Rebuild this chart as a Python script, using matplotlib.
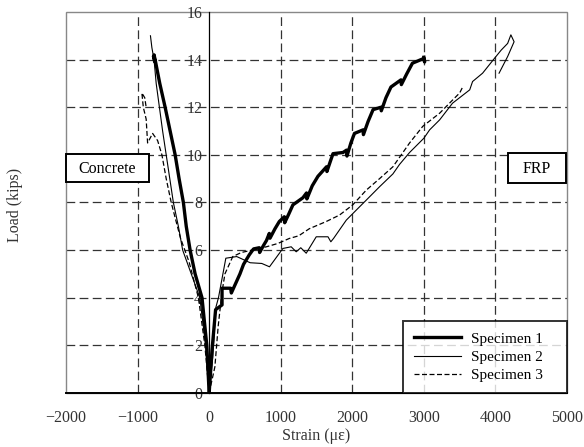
import matplotlib
matplotlib.use("Agg")
import matplotlib.pyplot as plt
from matplotlib.patches import Rectangle

plt.rcParams['font.family'] = ['Liberation Serif', 'DejaVu Serif']

# ---- data (strain in microstrain, load in kips) ----
s1_conc_x = [0, -33, -100, -196, -266, -320, -360, -420, -475, -545, -615, -690, -755, -770, -760, -775]
s1_conc_y = [0, 2, 4, 5, 6, 7, 8, 9, 10, 11, 12, 13, 14, 14.2, 13.9, 14.1]

s2_conc_x = [0, -50, -130, -250, -370, -430, -500, -550, -600, -650, -695, -740, -770, -800, -820]
s2_conc_y = [0, 2, 4, 5, 6, 7, 8, 9, 10, 11, 12, 13, 14, 14.5, 15]

s3_conc_x = [0, -60, -150, -280, -400, -470, -530, -600, -660, -720, -790, -860, -870, -880, -920, -940, -900, -880]
s3_conc_y = [0, 2, 4, 5.5, 6.5, 7.3, 8, 9, 10, 10.6, 10.9, 10.5, 11.0, 11.5, 12.0, 12.6, 12.4, 12.0]

s1_frp_x = [0, 40, 90, 180, 180, 300, 310, 430, 480, 560, 620, 700, 705, 760, 800, 840, 850,
            920, 980, 1050, 1055, 1110, 1170, 1310, 1360, 1365, 1440, 1520, 1640, 1645, 1690,
            1730, 1870, 1920, 1925, 1980, 2030, 2150, 2155, 2220, 2290, 2400, 2405, 2470, 2540,
            2680, 2685, 2760, 2840, 3000, 3010, 3000]
s1_frp_y = [0, 1.8, 3.5, 3.7, 4.4, 4.4, 4.2, 5.0, 5.4, 5.8, 6.05, 6.1, 5.9, 6.2, 6.4, 6.7, 6.5,
            6.9, 7.2, 7.4, 7.15, 7.5, 7.9, 8.2, 8.4, 8.15, 8.7, 9.1, 9.5, 9.3, 9.7,
            10.05, 10.1, 10.2, 9.95, 10.5, 10.9, 11.05, 10.85, 11.4, 11.9, 12.0, 11.85, 12.4, 12.85,
            13.15, 12.95, 13.4, 13.85, 14.05, 13.9, 14.1]

s2_frp_x = [0, 50, 94, 130, 233, 385, 573, 735, 843, 1030, 1146, 1216, 1280, 1356, 1496, 1660,
            1700, 1740, 1916, 2055, 2195, 2380, 2567, 2660, 2800, 3000, 3080, 3220, 3400, 3640,
            3680, 3820, 3985, 4080, 4170, 4215, 4260, 4170, 4050]
s2_frp_y = [0, 1.5, 3.6, 4.0, 5.66, 5.73, 5.47, 5.44, 5.3, 6.07, 6.14, 5.93, 6.1, 5.87, 6.56, 6.56,
            6.35, 6.5, 7.26, 7.68, 8.1, 8.66, 9.2, 9.6, 10.1, 10.7, 11.05, 11.47, 12.17, 12.73,
            13.08, 13.43, 14.05, 14.4, 14.68, 15.04, 14.75, 14.13, 13.43]

s3_frp_x = [0, 80, 126, 177, 220, 330, 450, 600, 800, 960, 1120, 1250, 1400, 1635, 1820, 2006,
            2195, 2380, 2567, 2800, 2985, 3220, 3400, 3500, 3550]
s3_frp_y = [0, 1.1, 2.8, 4.19, 5.0, 5.73, 5.9, 6.0, 6.14, 6.28, 6.49, 6.6, 6.9, 7.2, 7.47, 7.9,
            8.52, 9.0, 9.5, 10.5, 11.2, 11.75, 12.3, 12.6, 12.9]

x_ticks = [-2000, -1000, 0, 1000, 2000, 3000, 4000, 5000]
y_ticks = [0, 2, 4, 6, 8, 10, 12, 14, 16]
series_labels = ['Specimen 1', 'Specimen 2', 'Specimen 3']

# ---- figure ----
fig = plt.figure(figsize=(5.84, 4.47), dpi=100)
ax = fig.add_axes([0.113, 0.1208, 0.858, 0.8524])

ax.set_xlim(-2000, 5000)
ax.set_ylim(0, 16)
ax.set_xticks(x_ticks)
ax.set_yticks(y_ticks)

# grid
for gx in x_ticks[1:-1]:
    if gx != 0:
        ax.axvline(gx, color='#333333', lw=0.9, ls=(0, (7, 3.5)), zorder=0)
for gy in y_ticks[1:-1]:
    ax.axhline(gy, color='#333333', lw=0.9, ls=(0, (7, 3.5)), zorder=0)

# spines
ax.spines['left'].set_position(('data', 0))
ax.spines['left'].set_linewidth(0.9)
ax.spines['bottom'].set_linewidth(1.4)
ax.spines['top'].set_visible(False)
ax.spines['right'].set_visible(False)
ax.add_patch(Rectangle((0, 0), 1, 1, transform=ax.transAxes, fill=False,
                       edgecolor='#888888', lw=1.0, clip_on=False, zorder=0.5))
ax.tick_params(axis='both', length=0, labelsize=11.5, colors='#333333')
ax.tick_params(axis='x', pad=12)
ax.tick_params(axis='y', pad=5)
ax.set_xticklabels([f'{t}'.replace('-', '\u2212') for t in x_ticks])

# series
ax.plot(s1_conc_x, s1_conc_y, color='black', lw=2.4, zorder=3)
ax.plot(s1_frp_x, s1_frp_y, color='black', lw=2.4, zorder=3, label=series_labels[0])
ax.plot(s2_conc_x, s2_conc_y, color='black', lw=0.8, zorder=2)
ax.plot(s2_frp_x, s2_frp_y, color='black', lw=0.8, zorder=2, label=series_labels[1])
ax.plot(s3_conc_x, s3_conc_y, color='black', lw=0.9, ls=(0, (4, 2)), zorder=2)
ax.plot(s3_frp_x, s3_frp_y, color='black', lw=0.9, ls=(0, (4, 2)), zorder=2, label=series_labels[2])

ax.set_xlabel('Strain (\u03bc\u03b5)', fontsize=11.5, color='#333333', labelpad=2)
fig.text(15 / 584, 1 - 205 / 447, 'Load (kips)', rotation=90, ha='center', va='center',
         fontsize=11.5, color='#333333')

# annotation boxes
ax.add_patch(Rectangle((-2000, 8.86), 1162, 1.18, fill=True, facecolor='white',
                       edgecolor='black', lw=1.4, zorder=5, clip_on=False))
ax.text(-1419, 9.42, 'Concrete', ha='center', va='center', fontsize=11.5, zorder=6)
ax.add_patch(Rectangle((4178, 8.82), 810, 1.26, fill=True, facecolor='white',
                       edgecolor='black', lw=1.4, zorder=5, clip_on=False))
ax.text(4583, 9.42, 'FRP', ha='center', va='center', fontsize=11.5, zorder=6)

leg = ax.legend(loc='lower left', bbox_to_anchor=(0.6727, 0.0, 0.3273, 0.2), mode='expand',
                fontsize=11, frameon=True, fancybox=False,
                borderaxespad=0, handlelength=3.1, handletextpad=0.65,
                labelspacing=0.3, borderpad=0.7)
leg.get_frame().set_edgecolor('black')
leg.get_frame().set_linewidth(1.4)
leg.set_zorder(10)

fig.savefig('out.png', dpi=100)
